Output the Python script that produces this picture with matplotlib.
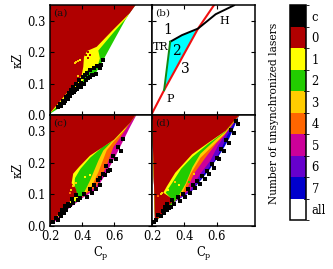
import matplotlib
matplotlib.use('Agg')
import matplotlib.pyplot as plt
from matplotlib.colors import ListedColormap, BoundaryNorm
from matplotlib.cm import ScalarMappable

plt.rcParams['font.family'] = 'DejaVu Serif'
plt.rcParams['mathtext.fontset'] = 'dejavuserif'
plt.rcParams['font.size'] = 8.3

class_labels = ['c', '0', '1', '2', '3', '4', '5', '6', '7', 'all']
class_colors = ['#000000', '#b00000', '#ffff00', '#22cc00', '#ffcc00',
                '#ff6600', '#cc0099', '#6600cc', '#0000cc', '#ffffff']
cbar_label = 'Number of unsynchronized lasers'
x_ticks = [0.2, 0.4, 0.6]
y_ticks = [0.0, 0.1, 0.2, 0.3]

# lower edge of each region, the area above it gets that class
a_2 = [(.2, .004), (.25, .02), (.304, .05), (.388, .085), (.49, .137), (.533, .175), (.606, .243), (.669, .301), (.705, .33), (.735, .35)]
a_1 = [(.2, .005), (.3, .055), (.39, .09), (.43, .14), (.5, .16), (.512, .18), (.502, .205), (.596, .262), (.68, .31), (.72, .345)]
a_0 = [(.2, .006), (.304, .069), (.377, .111), (.398, .127), (.408, .153), (.4125, .185), (.433, .204), (.492, .217), (.596, .272), (.70, .325), (.735, .35)]

c_5 = [(.2, .004), (.25, .02), (.304, .05), (.408, .09), (.49, .116), (.554, .169), (.606, .217), (.70, .312), (.74, .35)]
c_4 = [(.2, .005), (.3, .055), (.41, .095), (.49, .125), (.55, .185), (.596, .249), (.627, .27), (.70, .325), (.735, .35)]
c_3 = [(.2, .005), (.3, .055), (.408, .095), (.46, .125), (.502, .169), (.554, .238), (.596, .265), (.66, .30), (.735, .35)]
c_2 = [(.2, .005), (.3, .055), (.398, .09), (.45, .143), (.502, .206), (.533, .238), (.585, .265), (.64, .29), (.735, .35)]
c_1 = [(.2, .005), (.33, .065), (.375, .088), (.355, .125), (.355, .15), (.39, .18), (.45, .215), (.53, .25), (.6, .27), (.66, .30), (.735, .35)]
c_0 = [(.2, .006), (.31, .07), (.37, .1), (.36, .12), (.335, .135), (.345, .165), (.385, .188), (.45, .222), (.6, .272), (.7, .325), (.735, .35)]

d_7 = [(.219, .011), (.344, .077), (.448, .111), (.552, .175), (.635, .238), (.677, .275), (.74, .35)]
d_6 = [(.219, .012), (.344, .078), (.45, .113), (.53, .17), (.6, .215), (.64, .255), (.665, .285), (.74, .35)]
d_5 = [(.219, .012), (.344, .079), (.44, .115), (.5, .165), (.56, .205), (.61, .255), (.65, .285), (.74, .35)]
d_4 = [(.219, .012), (.344, .08), (.41, .108), (.46, .165), (.53, .215), (.6, .262), (.65, .288), (.74, .35)]
d_3 = [(.219, .012), (.344, .08), (.39, .105), (.44, .165), (.5, .215), (.6, .265), (.65, .29), (.74, .35)]
d_2 = [(.219, .012), (.344, .08), (.36, .09), (.41, .135), (.45, .185), (.5, .228), (.6, .275), (.65, .295), (.74, .35)]
d_1 = [(.219, .012), (.33, .08), (.285, .105), (.33, .14), (.38, .18), (.45, .218), (.55, .26), (.65, .297), (.74, .35)]
d_0 = [(.219, .013), (.335, .082), (.27, .105), (.292, .125), (.344, .168), (.448, .226), (.55, .263), (.656, .3), (.74, .35)]

# black points, panels a, c, d
a_black_x = [.25, .262, .27, .282, .29, .30, .296, .312, .32, .31, .33, .338, .325, .345, .355, .36, .348, .375, .38, .392, .37, .405, .41, .418, .395, .432, .44, .426, .452, .46, .447, .475, .485, .495, .47, .51, .52, .533]
a_black_y = [.026, .034, .03, .045, .038, .058, .044, .062, .07, .05, .078, .07, .062, .088, .08, .098, .074, .094, .11, .102, .083, .122, .1, .128, .09, .135, .118, .11, .142, .128, .12, .15, .132, .156, .128, .148, .16, .174]
c_black_x = [.22, .238, .25, .262, .275, .268, .295, .288, .31, .318, .302, .335, .345, .328, .365, .375, .39, .41, .43, .45, .472, .46, .498, .485, .515, .53, .51, .55, .565, .545, .58, .595, .575, .625, .61, .655, .642]
c_black_y = [.012, .024, .02, .038, .052, .03, .062, .042, .07, .062, .05, .084, .074, .066, .098, .082, .088, .102, .092, .118, .13, .105, .146, .118, .15, .165, .128, .188, .175, .16, .205, .22, .178, .25, .212, .275, .235]
d_black_x = [.21, .225, .24, .255, .265, .278, .272, .295, .305, .29, .325, .335, .318, .36, .375, .39, .405, .42, .435, .452, .465, .48, .495, .51, .525, .54, .555, .57, .585, .6, .615, .63, .645, .66, .675, .69, .705, .72, .735]
d_black_y = [.012, .02, .036, .03, .048, .06, .042, .07, .058, .05, .082, .068, .06, .09, .08, .1, .09, .118, .105, .128, .12, .142, .134, .158, .148, .174, .165, .194, .182, .215, .21, .242, .235, .27, .262, .302, .292, .33, .322]

# stray coloured spots
a_spot_x = [.355, .365, .375, .385, .375, .425, .44, .45, .44]
a_spot_y = [.165, .168, .172, .175, .125, .19, .2, .19, .18]
a_spot_c = ['#ffcc00', '#ffcc00', '#ffcc00', '#ffff00', '#ffcc00', '#b00000', '#b00000', '#b00000', '#b00000']
c_spot_x = [.33, .345, .35, .36, .325, .42, .45, .49]
c_spot_y = [.115, .125, .15, .135, .105, .155, .16, .17]
c_spot_c = ['#ffcc00', '#ffcc00', '#ffff00', '#ffcc00', '#ff6600', '#ffff00', '#ffff00', '#ffcc00']
d_spot_x = [.24, .255, .26, .30, .34, .37, .40, .43, .46]
d_spot_y = [.095, .1, .105, .115, .14, .13, .15, .14, .165]
d_spot_c = ['#ff6600', '#ffcc00', '#ffcc00', '#ffff00', '#ffcc00', '#ffff00', '#22cc00', '#22cc00', '#ffcc00']

# panel b curves
b_red_x = [.2, .275, .485, .583]
b_red_y = [.005, .079, .275, .349]
b_h_x = [.3125, .385, .485, .594, .708]
b_h_y = [.233, .254, .275, .3206, .349]
b_tr_x = [.275, .3125]
b_tr_y = [.079, .233]


def setup(ax, show_x, show_y):
    ax.set_xlim(0.2, 0.8375)
    ax.set_ylim(0, 0.35)
    ax.set_xticks(x_ticks)
    ax.set_yticks(y_ticks)
    ax.tick_params(direction='in', length=3, width=0.8, top=True, right=True,
                   labelbottom=show_x, labelleft=show_y, pad=3)
    ax.xaxis.set_major_formatter('{x:.1f}')
    ax.yaxis.set_major_formatter('{x:.1f}')
    for s in ax.spines.values():
        s.set_linewidth(1.1)
    if show_x:
        ax.set_xlabel('C$_{\\mathrm{p}}$', labelpad=1)
    if show_y:
        ax.set_ylabel('κZ', labelpad=2)


def fill_above(ax, curve, color):
    xs = [p[0] for p in curve] + [curve[-1][0], 0.2]
    ys = [p[1] for p in curve] + [0.35, 0.35]
    ax.fill(xs, ys, color=color, lw=0)


W, H = 333, 269
fig = plt.figure(figsize=(W / 100, H / 100), dpi=100)


def make_axes(x0, x1, y0, y1):
    return fig.add_axes([x0 / W, 1 - y1 / H, (x1 - x0) / W, (y1 - y0) / H])


ax_a = make_axes(50, 152, 5, 115)
ax_b = make_axes(152, 255, 5, 115)
ax_c = make_axes(50, 152, 115, 226)
ax_d = make_axes(152, 255, 115, 226)

col = dict(zip(class_labels, class_colors))

fill_above(ax_a, a_2, col['2'])
fill_above(ax_a, a_1, col['1'])
fill_above(ax_a, a_0, col['0'])
ax_a.scatter(a_spot_x, a_spot_y, s=2, c=a_spot_c, marker='s', lw=0)
ax_a.scatter(a_black_x, a_black_y, s=9, c='k', marker='s', lw=0)

fill_above(ax_c, c_5, col['5'])
fill_above(ax_c, c_4, col['4'])
fill_above(ax_c, c_3, col['3'])
fill_above(ax_c, c_2, col['2'])
fill_above(ax_c, c_1, col['1'])
fill_above(ax_c, c_0, col['0'])
ax_c.scatter(c_spot_x, c_spot_y, s=2, c=c_spot_c, marker='s', lw=0)
ax_c.scatter(c_black_x, c_black_y, s=8, c='k', marker='s', lw=0)

fill_above(ax_d, d_7, col['7'])
fill_above(ax_d, d_6, col['6'])
fill_above(ax_d, d_5, col['5'])
fill_above(ax_d, d_4, col['4'])
fill_above(ax_d, d_3, col['3'])
fill_above(ax_d, d_2, col['2'])
fill_above(ax_d, d_1, col['1'])
fill_above(ax_d, d_0, col['0'])
ax_d.scatter(d_spot_x, d_spot_y, s=2, c=d_spot_c, marker='s', lw=0)
ax_d.scatter(d_black_x, d_black_y, s=8, c='k', marker='s', lw=0)

# panel b
ax_b.fill(b_tr_x + b_h_x[1:3] + [b_red_x[2]], b_tr_y + b_h_y[1:3] + [b_red_y[2]], color='#00ffff', lw=0)
ax_b.plot(b_red_x, b_red_y, color='#f01010', lw=1.5)
ax_b.plot(b_h_x, b_h_y, color='k', lw=1.4)
ax_b.plot(b_tr_x, b_tr_y, color='#118811', lw=1.4)
ax_b.text(0.30, 0.27, '1', fontsize=10, ha='center', va='center')
ax_b.text(0.35, 0.205, '2', fontsize=10, ha='center', va='center')
ax_b.text(0.405, 0.145, '3', fontsize=10, ha='center', va='center')
ax_b.text(0.255, 0.215, 'TR', fontsize=8, ha='center', va='center')
ax_b.text(0.31, 0.052, 'P', fontsize=8, ha='center', va='center')
ax_b.text(0.65, 0.30, 'H', fontsize=8, ha='center', va='center')

setup(ax_a, False, True)
setup(ax_b, False, False)
setup(ax_c, True, True)
setup(ax_d, True, False)

for ax, name in [(ax_a, '(a)'), (ax_b, '(b)'), (ax_c, '(c)'), (ax_d, '(d)')]:
    ax.text(0.222, 0.325, name, fontsize=7.5, ha='left', va='center', color='#111111')

# green sliver along the bottom of panel a
ax_a.axhline(0.001, color='#7fe07f', lw=1.0)

# colour bar
cax = make_axes(290, 306, 5, 220)
cmap = ListedColormap(class_colors)
bounds = list(range(len(class_labels) + 1))
norm = BoundaryNorm(bounds, cmap.N)
cb = fig.colorbar(ScalarMappable(norm=norm, cmap=cmap), cax=cax, spacing='uniform')
cb.ax.invert_yaxis()
cb.set_ticks([i + 0.5 for i in range(len(class_labels))])
cb.set_ticklabels(class_labels)
cb.ax.tick_params(length=0, pad=4, labelsize=8.3)
cb.outline.set_linewidth(1.1)
for b in bounds[1:-1]:
    cb.ax.plot([0.85, 1.0], [b, b], transform=cb.ax.get_yaxis_transform(), color='k', lw=0.6)
fig.text(274 / W, 1 - 113 / H, cbar_label, rotation=90, ha='center', va='center', fontsize=7.7)

fig.savefig('out.png', dpi=100)
